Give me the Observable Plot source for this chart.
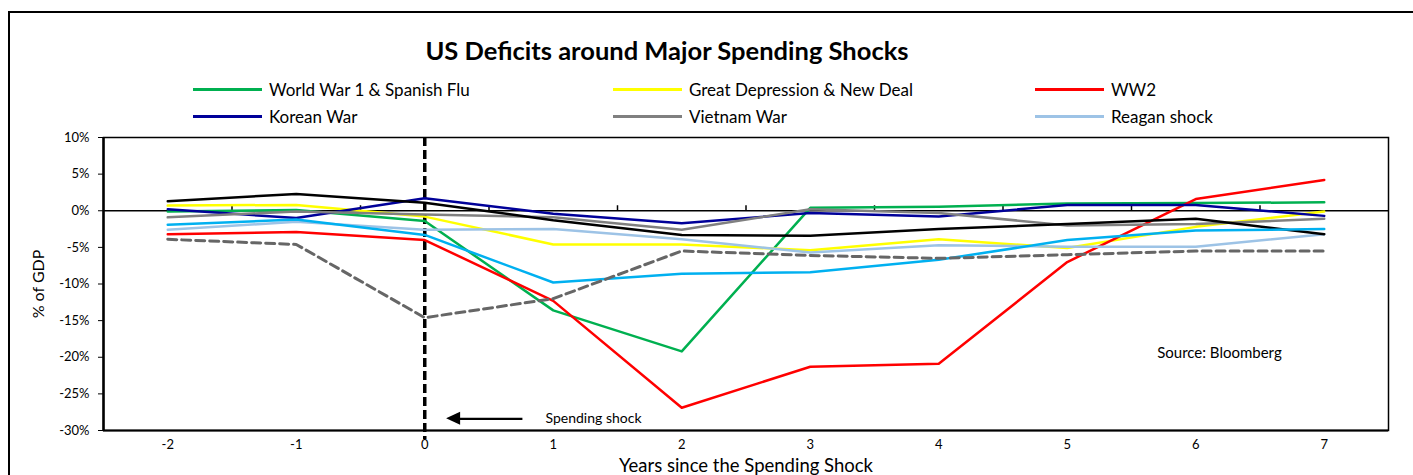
<!DOCTYPE html>
<html>
<head>
<meta charset="utf-8">
<script src="https://cdn.jsdelivr.net/npm/d3@7"></script>
<script src="https://cdn.jsdelivr.net/npm/@observablehq/plot@0.6"></script>
<style>
  html, body { margin: 0; padding: 0; background: #fff; }
  #wrap { position: relative; width: 1413px; height: 475px; overflow: hidden; background: #fff; font-family: Lato, "Open Sans", sans-serif; color: #000; }
  #chart { position: absolute; left: 0; top: 0; }
  .frame { position: absolute; left: 8px; top: 11px; width: 1420px; height: 480px; border-top: 2px solid #000; border-left: 2px solid #000; }
  .title { position: absolute; left: 0; width: 1334px; top: 34px; text-align: center; font-weight: 700; font-size: 25.5px; line-height: 32px; }
  .lg { position: absolute; height: 22px; display: flex; align-items: center; font-size: 17px; white-space: nowrap; }
  .lg .sw { width: 69px; height: 3px; margin-right: 7px; }
</style>
</head>
<body>
<div id="wrap">
  <div id="chart"></div>
  <div class="frame"></div>
  <div class="title">US Deficits around Major Spending Shocks</div>
  <div id="legend"></div>
</div>
<script>
// ---- data ----
const years = [-2, -1, 0, 1, 2, 3, 4, 5, 6, 7];
const ww1        = [-0.1, 0.1, -1.4, -13.6, -19.2, 0.4, 0.55, 1.0, 1.05, 1.15];
const depression = [0.7, 0.8, -0.8, -4.6, -4.6, -5.4, -3.9, -5.1, -2.2, -0.1];
const ww2        = [-3.2, -2.9, -4.0, -12.3, -26.9, -21.3, -20.9, -7.0, 1.6, 4.2];
const korea      = [0.2, -1.0, 1.7, -0.4, -1.7, -0.3, -0.8, 0.8, 0.8, -0.7];
const vietnam    = [-0.9, -0.1, -0.5, -0.9, -2.6, 0.2, -0.3, -2.0, -1.8, -1.1];
const reagan     = [-2.6, -1.5, -2.6, -2.5, -3.9, -5.7, -4.7, -4.9, -4.9, -3.2];
const terror     = [1.3, 2.3, 1.1, -1.3, -3.3, -3.4, -2.5, -1.8, -1.1, -3.2];
const gfc        = [-1.9, -1.2, -3.3, -9.8, -8.6, -8.4, -6.7, -4.0, -2.7, -2.5];
const covid      = [-3.9, -4.6, -14.6, -12.0, -5.5, -6.1, -6.5, -6.0, -5.5, -5.5];

const seriesNames = ["World War 1 & Spanish Flu", "Great Depression & New Deal", "WW2", "Korean War", "Vietnam War", "Reagan shock", "War on Terror", "Financial Crisis", "COVID-19"];
const seriesValues = [ww1, depression, ww2, korea, vietnam, reagan, terror, gfc, covid];
const seriesColors = ["#00B050", "#FFFF00", "#FF0000", "#000099", "#808080", "#9DC3E6", "#000000", "#00B0F0", "#666666"];
const legendNames = ["World War 1 & Spanish Flu", "Great Depression & New Deal", "WW2", "Korean War", "Vietnam War", "Reagan shock"];
const yTicks = [-30, -25, -20, -15, -10, -5, 0, 5, 10];
const shockYear = [0];
const bandEdges = [-1.5, -0.5, 0.5, 1.5, 2.5, 3.5, 4.5, 5.5, 6.5];
const arrowNote = [{x1: 0.76, x2: 0.27, y: -28.4}];
const arrowTip = {x: 0.17, y: -28.4};
const shockNote = [{x: 0.94, y: -28.4, text: "Spending shock"}];
const sourceNote = [{x: 5.70, y: -19.4, text: "Source: Bloomberg"}];

// long table
const rows = [];
seriesNames.forEach((name, i) => {
  years.forEach((yr, j) => rows.push({series: name, year: yr, value: seriesValues[i][j]}));
});
const solidRows = rows.filter(d => d.series !== "COVID-19");
const dashedRows = rows.filter(d => d.series === "COVID-19");

const chart = Plot.plot({
  width: 1413,
  height: 475,
  marginLeft: 103,
  marginRight: 25,
  marginTop: 137,
  marginBottom: 45,
  style: {background: "transparent", fontFamily: "Lato, 'Open Sans', sans-serif", fontSize: "13px", color: "#000"},
  x: {domain: [-2.5, 7.5], ticks: years, tickSize: 0, tickPadding: 9, tickFormat: d => String(d), label: null},
  y: {domain: [-30, 10], ticks: yTicks, tickSize: 5, tickPadding: 9, tickFormat: d => d + "%", label: null},
  color: {domain: seriesNames, range: seriesColors},
  marks: [
    Plot.frame({stroke: "#000", strokeWidth: 1.5}),
    Plot.ruleX([-2.5], {stroke: "#000", strokeWidth: 2.5}),
    Plot.ruleY([-30], {stroke: "#000", strokeWidth: 2}),
    Plot.ruleY([0], {stroke: "#000", strokeWidth: 1.5}),
    Plot.ruleX(bandEdges, {y1: 0, y2: 0, insetTop: -5, stroke: "#000", strokeWidth: 1.5}),
    Plot.ruleX(shockYear, {stroke: "#000", strokeWidth: 3.5, strokeDasharray: "9,4", insetBottom: -9}),
    Plot.line(solidRows, {x: "year", y: "value", z: "series", stroke: "series", strokeWidth: 2.5}),
    Plot.line(dashedRows, {x: "year", y: "value", z: "series", stroke: "series", strokeWidth: 3, strokeDasharray: "9,5"}),
    Plot.link(arrowNote, {x1: "x1", x2: "x2", y1: "y", y2: "y", stroke: "#000", strokeWidth: 2.2}),
    Plot.text(shockNote, {x: "x", y: "y", text: "text", textAnchor: "start", fontSize: 14}),
    Plot.text(sourceNote, {x: "x", y: "y", text: "text", textAnchor: "start", fontSize: 15}),
    Plot.text(["% of GDP"], {frameAnchor: "left", textAnchor: "middle", rotate: -90, dx: -65, fontSize: 16}),
    Plot.text(["Years since the Spending Shock"], {frameAnchor: "bottom", lineAnchor: "middle", dy: 36, fontSize: 18.5})
  ]
});
document.getElementById("chart").appendChild(chart);

// filled arrow head, positioned through the plot's own scales
{
  const xs = chart.scale("x"), ys = chart.scale("y");
  const sx = d3.scaleLinear(xs.domain, xs.range);
  const sy = d3.scaleLinear(ys.domain, ys.range);
  const tx = sx(arrowTip.x), ty = sy(arrowTip.y);
  d3.select(chart).append("path")
    .attr("d", `M${tx},${ty}L${tx + 14},${ty - 6.5}L${tx + 14},${ty + 6.5}Z`)
    .attr("fill", "#000");
}

// legend (HTML, above the plot area)
const legendPos = [[193, 89], [613, 89], [1035, 89], [193, 116], [613, 116], [1035, 116]];
const legend = document.getElementById("legend");
legendNames.forEach((name, i) => {
  const idx = seriesNames.indexOf(name);
  const item = document.createElement("div");
  item.className = "lg";
  item.style.left = legendPos[i][0] + "px";
  item.style.top = (legendPos[i][1] - 11) + "px";
  const sw = document.createElement("span");
  sw.className = "sw";
  sw.style.background = seriesColors[idx];
  const tx = document.createElement("span");
  tx.textContent = name;
  item.appendChild(sw);
  item.appendChild(tx);
  legend.appendChild(item);
});
</script>
</body>
</html>
